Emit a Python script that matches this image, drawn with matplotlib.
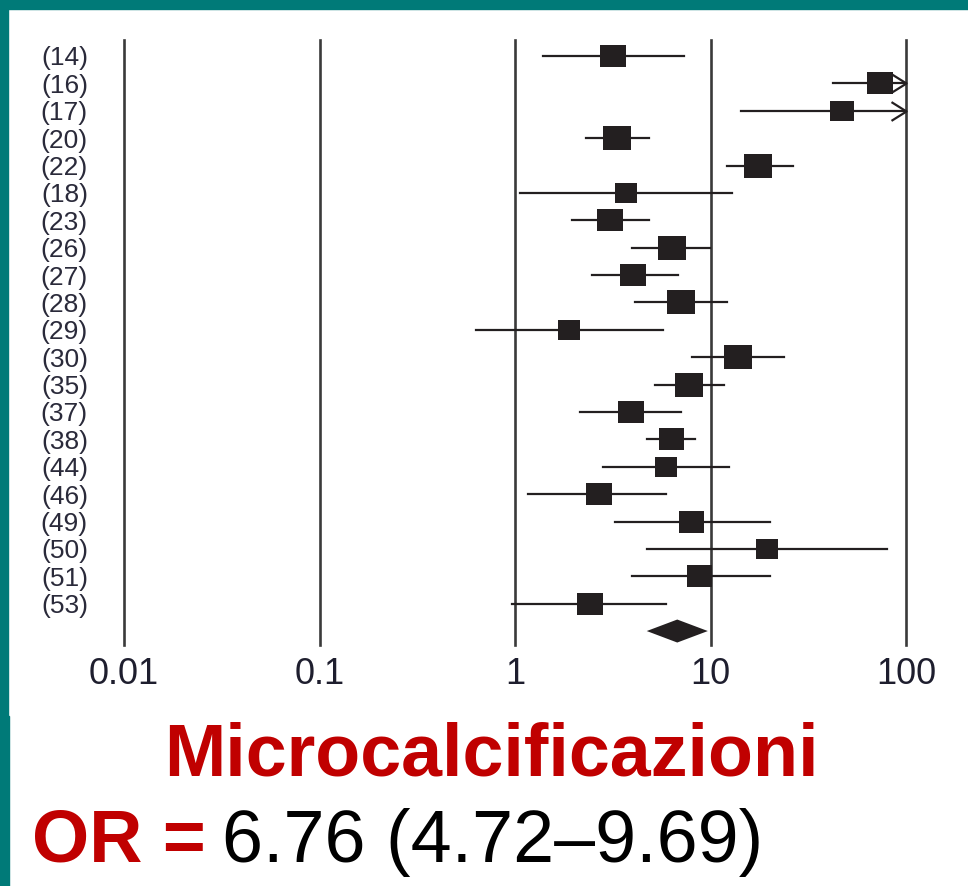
import numpy as np
import matplotlib
matplotlib.use("Agg")
import matplotlib.pyplot as plt
from matplotlib.path import Path
from matplotlib.patches import Rectangle

# study labels, odds ratios and 95% CI
studies = ['(14)', '(16)', '(17)', '(20)', '(22)', '(18)', '(23)', '(26)', '(27)', '(28)', '(29)',
           '(30)', '(35)', '(37)', '(38)', '(44)', '(46)', '(49)', '(50)', '(51)', '(53)']
or_est = [3.18, 73.9, 46.8, 3.34, 17.5, 3.70, 3.07, 6.36, 4.03, 7.04, 1.88,
          13.9, 7.77, 3.90, 6.26, 5.94, 2.68, 7.92, 19.4, 8.74, 2.42]
ci_lo = [1.39, 42.4, 14.4, 2.31, 12.1, 1.06, 1.95, 3.96, 2.48, 4.11, 0.63,
         8.07, 5.20, 2.15, 4.71, 2.83, 1.17, 3.23, 4.71, 3.98, 0.96]
ci_hi = [7.29, 130.0, 140.0, 4.84, 26.3, 12.9, 4.84, 9.9, 6.79, 12.1, 5.71,
         23.7, 11.7, 7.03, 8.32, 12.5, 5.92, 20.1, 80.1, 20.1, 5.92]
# relative study weight (box size)
weight = [25.3, 25.7, 23.3, 28.3, 28.7, 22.3, 26.0, 27.7, 25.3, 28.3, 22.7,
          28.7, 28.3, 25.7, 25.0, 22.7, 25.7, 25.0, 22.7, 25.0, 25.3]

pooled_or = 6.76
pooled_lo = 4.72
pooled_hi = 9.69

xticks = [0.01, 0.1, 1, 10, 100]
xtick_labels = ['0.01', '0.1', '1', '10', '100']

W, H = 968, 886
fig = plt.figure(figsize=(W / 100, H / 100), dpi=100)
fig.patch.set_facecolor('white')

# teal frame (top and left)
teal = '#007a78'
fig.patches.append(Rectangle((0, 1 - 8.5 / H), 1, 8.5 / H, transform=fig.transFigure,
                             color=teal, zorder=0))
fig.patches.append(Rectangle((0, 1 - 716 / H), 7.5 / W, 716 / H, transform=fig.transFigure,
                             color=teal, zorder=0))
fig.patches.append(Rectangle((0, 0), 8.5 / W, (H - 716) / H, transform=fig.transFigure,
                             color=teal, zorder=0))

ax = fig.add_axes([124 / W, 1 - 645 / H, (906 - 124) / W, (645 - 40) / H])
ax.set_xscale('log')
ax.set_xlim(0.01, 100)
n = len(studies)
ax.set_ylim(21.51, -0.584)
for s in ax.spines.values():
    s.set_visible(False)
ax.patch.set_alpha(0)

for xv in xticks:
    ax.axvline(xv, color='#3a3a3a', lw=1.9, zorder=1, clip_on=False)

box_color = '#231f20'
box = Path([(-0.585, -0.5), (0.585, -0.5), (0.585, 0.5), (-0.585, 0.5), (-0.585, -0.5)],
           [Path.MOVETO, Path.LINETO, Path.LINETO, Path.LINETO, Path.CLOSEPOLY])
chevron = Path([(-1.6, 1), (0, 0), (-1.6, -1)], [Path.MOVETO, Path.LINETO, Path.LINETO])

xmax = ax.get_xlim()[1]
for i in range(n):
    hi = min(ci_hi[i], xmax)
    ax.plot([ci_lo[i], hi], [i, i], color=box_color, lw=1.6, zorder=2, clip_on=False)
    ax.plot(or_est[i], i, marker=box, markersize=weight[i] * 0.72, color=box_color,
            markeredgewidth=0, zorder=3, clip_on=False)
    if ci_hi[i] > xmax:
        ax.plot(xmax, i, marker=chevron, markersize=21.6, markerfacecolor='none',
                markeredgecolor=box_color, markeredgewidth=1.6, zorder=3, clip_on=False)

# pooled diamond
yd = n
h = 0.42
ax.fill([pooled_lo, pooled_or, pooled_hi, pooled_or], [yd, yd - h, yd, yd + h],
        color=box_color, lw=0, zorder=3, clip_on=False)

ax.set_yticks(range(n))
ax.set_yticklabels(studies, fontsize=19, family='Liberation Sans', color='#2a2a3a')
ax.set_xticks(xticks)
ax.set_xticklabels(xtick_labels, fontsize=26, family='Liberation Sans', color='#1e1e2e')
ax.minorticks_off()
ax.tick_params(axis='y', length=0, pad=26)
ax.tick_params(axis='x', length=0, pad=9)

red = '#c00000'
fig.text(491 / W, 1 - 775 / H, 'Microcalcificazioni', fontsize=53, fontweight='bold',
         family='Liberation Sans', color=red, ha='center', va='baseline')
fig.text(32 / W, 1 - 862 / H, 'OR =', fontsize=53, fontweight='bold',
         family='Liberation Sans', color=red, ha='left', va='baseline')
fig.text(222 / W, 1 - 862 / H, '6.76 (4.72\u20139.69)', fontsize=53,
         family='Liberation Sans', color='black', ha='left', va='baseline')

fig.savefig('out.png', dpi=100)
